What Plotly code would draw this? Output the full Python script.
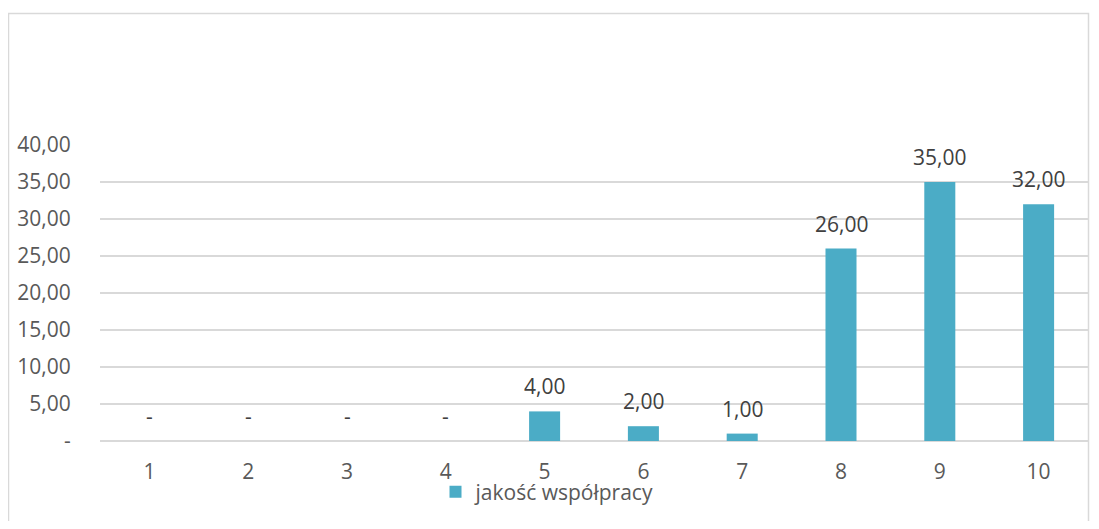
import plotly.graph_objects as go

categories = ["1", "2", "3", "4", "5", "6", "7", "8", "9", "10"]
values = [0, 0, 0, 0, 4, 2, 1, 26, 35, 32]
value_labels = ["-", "-", "-", "-", "4,00", "2,00", "1,00", "26,00", "35,00", "32,00"]
y_tickvals = [0, 5, 10, 15, 20, 25, 30, 35, 40]
y_ticktext = ["-", "5,00", "10,00", "15,00", "20,00", "25,00", "30,00", "35,00", "40,00"]
series_name = "jakość współpracy"

# page body has an 8px margin: work in figure coordinates = screen - 8
OFF = 8
W, H = 1099 - 2 * OFF, 529 - 2 * OFF
L = 100 - OFF
R = W - (1088 - OFF)
T = 145 - OFF
B = H - (441 - OFF)
pw = W - L - R
ph = H - T - B

def px_x(p):
    return (p - OFF - L) / pw

def px_y(p):
    return (H - B - (p - OFF)) / ph

FONT = "'Open Sans', Lato, sans-serif"
FS = 21

fig = go.Figure()
fig.add_trace(go.Bar(
    x=categories, y=values, name=series_name,
    marker=dict(color="#4BACC6", line=dict(width=0)),
    showlegend=True,
))

# on a category axis the annotation x is the category index
for i, (v, t) in enumerate(zip(values, value_labels)):
    fig.add_annotation(
        x=i, y=v, text=t, showarrow=False, xref="x", yref="y",
        yanchor="bottom", yshift=9,
        font=dict(family=FONT, size=FS, color="#404040"),
    )

# outer chart frame
fig.add_shape(
    type="rect", xref="paper", yref="paper",
    x0=px_x(8.5), x1=px_x(1088.5), y0=px_y(560), y1=px_y(13.5),
    line=dict(color="#d9d9d9", width=1.5), fillcolor="rgba(0,0,0,0)", layer="below",
)

# cut-off page number at bottom-right
fig.add_annotation(
    x=px_x(1089), y=px_y(506), xref="paper", yref="paper", text="4",
    showarrow=False, xanchor="left", yanchor="top",
    font=dict(family=FONT, size=22, color="#000000"),
)

fig.update_layout(
    width=W, height=H,
    margin=dict(l=L, r=R, t=T, b=B, autoexpand=False),
    paper_bgcolor="white", plot_bgcolor="white",
    bargap=0.686,
    font=dict(family=FONT, size=FS, color="#595959"),
    legend=dict(
        orientation="h", x=px_x(548), xanchor="center", y=px_y(492), yanchor="middle",
        font=dict(family=FONT, size=FS, color="#595959"),
        bgcolor="rgba(0,0,0,0)",
    ),
    xaxis=dict(
        type="category", range=[-0.5, len(categories) - 0.5],
        showgrid=False, zeroline=False, showline=False,
        ticks="outside", ticklen=12, tickcolor="rgba(0,0,0,0)",
        tickfont=dict(family=FONT, size=FS, color="#595959"),
        fixedrange=True,
    ),
    yaxis=dict(
        range=[0, 40], tickvals=y_tickvals, ticktext=y_ticktext,
        showgrid=True, gridcolor="#d9d9d9", gridwidth=1.5,
        zeroline=True, zerolinecolor="#d9d9d9", zerolinewidth=1.5,
        showline=False,
        ticks="outside", ticklen=24, tickcolor="rgba(0,0,0,0)",
        tickfont=dict(family=FONT, size=FS, color="#595959"),
        fixedrange=True,
    ),
)

fig.write_html("out.html")
